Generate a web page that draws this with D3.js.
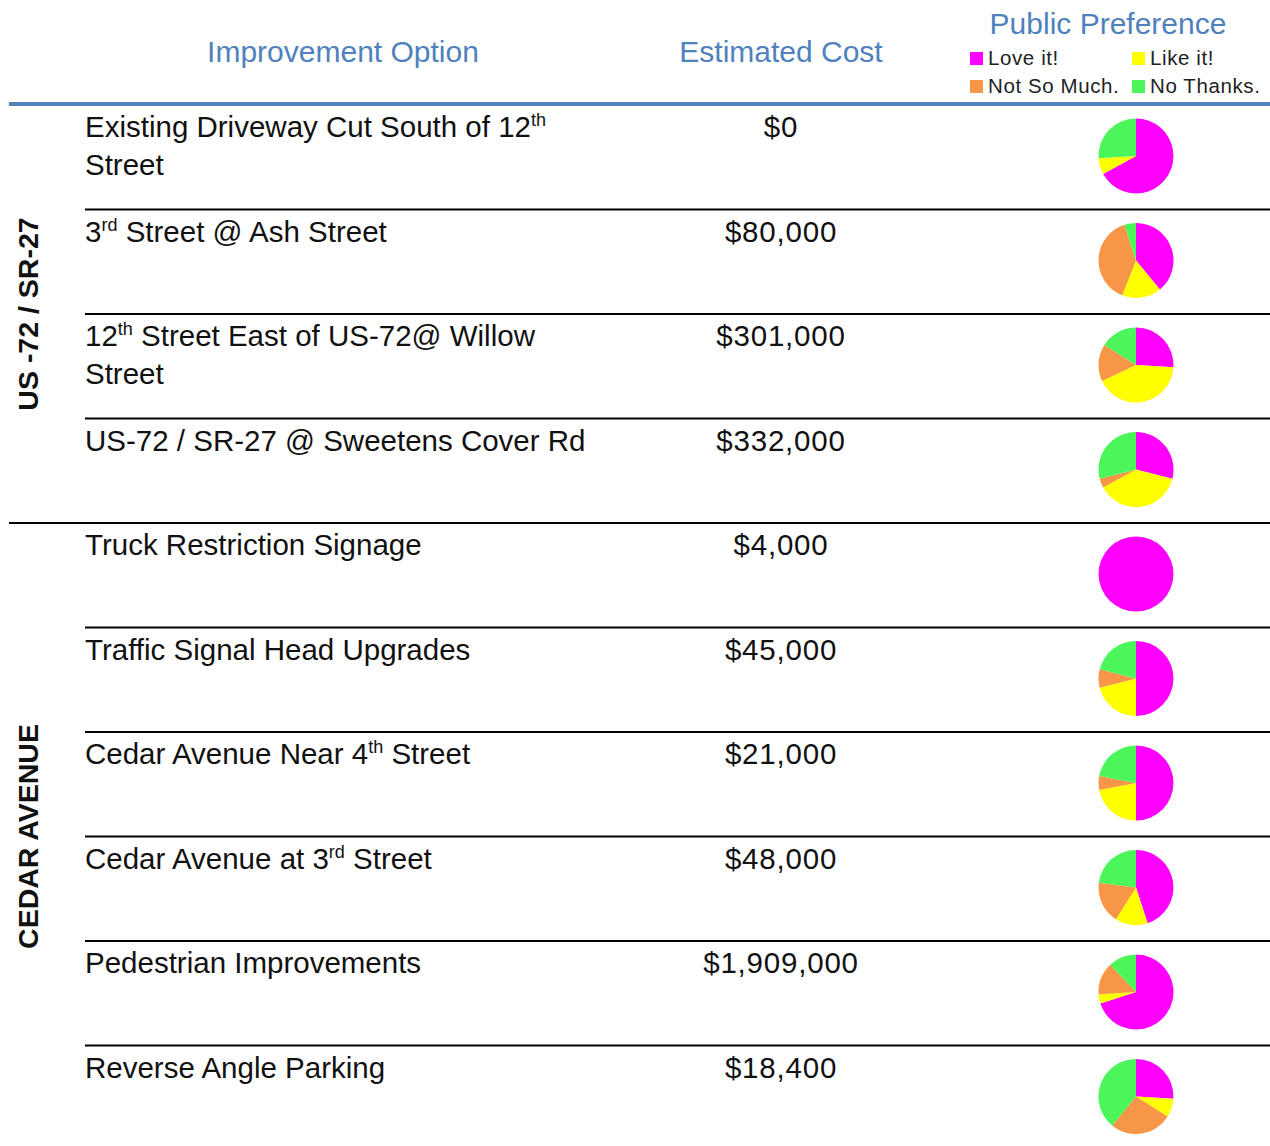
<!DOCTYPE html>
<html lang="en">
<head>
<meta charset="utf-8" />
<title>Improvement Options</title>
<script src="https://d3js.org/d3.v7.min.js"></script>
<style>
    body { margin: 0; background: #fff; font-family: "Liberation Sans", Arial, sans-serif; }
    .head { fill: #4f81bd; font-size: 30px; }
    .opt { fill: #111; font-size: 29.5px; }
    .cost { fill: #111; font-size: 29.5px; letter-spacing: 0.8px; }
    .grp { fill: #111; font-size: 28.5px; font-weight: bold; }
    .leg { fill: #222; font-size: 20.5px; letter-spacing: 0.6px; }
</style>
</head>
<body>
<script>
    // data
    var groups = ["US -72 / SR-27", "CEDAR AVENUE"]
    var groupRows = [4, 6]
    // "^xx" marks a superscript, "|" a line break
    var options = [
        "Existing Driveway Cut South of 12^th|Street",
        "3^rd Street @ Ash Street",
        "12^th Street East of US-72@ Willow|Street",
        "US-72 / SR-27 @ Sweetens Cover Rd",
        "Truck Restriction Signage",
        "Traffic Signal Head Upgrades",
        "Cedar Avenue Near 4^th Street",
        "Cedar Avenue at 3^rd Street",
        "Pedestrian Improvements",
        "Reverse Angle Parking"
    ]
    var costs = ["$0", "$80,000", "$301,000", "$332,000", "$4,000", "$45,000", "$21,000", "$48,000", "$1,909,000", "$18,400"]
    var prefs = ["Love it!", "Like it!", "Not So Much.", "No Thanks."]
    var love      = [67, 39, 26, 29, 100, 50, 50, 45, 70, 26]
    var like      = [7, 17, 42, 38, 0, 21, 22, 14, 4, 8]
    var notSoMuch = [0, 39, 16, 4, 0, 8, 6, 18, 14, 27]
    var noThanks  = [26, 5, 16, 29, 0, 21, 22, 23, 12, 39]
    var prefColors = ["#ff00ff", "#ffff00", "#f79646", "#4cf65a"]

    var W = 1270, H = 1146
    var top0 = 105, rowH = 104.5

    var svg = d3.select("body").append("svg")
        .attr("width", W).attr("height", H)

    var y = d3.scaleBand().domain(d3.range(options.length))
        .range([top0, top0 + rowH * options.length]).padding(0)
    var color = d3.scaleOrdinal().domain(prefs).range(prefColors)

    // header
    svg.append("text").attr("class", "head").attr("x", 343).attr("y", 62)
        .attr("text-anchor", "middle").text("Improvement Option")
    svg.append("text").attr("class", "head").attr("x", 781).attr("y", 62)
        .attr("text-anchor", "middle").text("Estimated Cost")
    svg.append("text").attr("class", "head").attr("x", 1108).attr("y", 34)
        .attr("text-anchor", "middle").text("Public Preference")

    var legX = [970, 1132], legY = [52, 80]
    var leg = svg.selectAll(".legitem").data(prefs).enter().append("g")
        .attr("transform", function (d, i) { return "translate(" + legX[i % 2] + "," + legY[Math.floor(i / 2)] + ")" })
    leg.append("rect").attr("width", 13).attr("height", 13).attr("fill", function (d) { return color(d) })
    leg.append("text").attr("class", "leg").attr("x", 18).attr("y", 13).text(function (d) { return d })

    svg.append("rect").attr("x", 9).attr("y", 102).attr("width", W - 9).attr("height", 4).attr("fill", "#4f81bd")

    // row separators
    var start = 0
    groupRows.forEach(function (n, gi) {
        for (var i = start; i < start + n; i++) {
            if (i == 0) continue
            var full = (i == start)
            svg.append("line")
                .attr("x1", full ? 9 : 85).attr("x2", W)
                .attr("y1", y(i)).attr("y2", y(i))
                .attr("stroke", "#000").attr("stroke-width", 2)
        }
        var mid = (y(start) + y(start + n - 1) + y.bandwidth()) / 2
        svg.append("text").attr("class", "grp")
            .attr("text-anchor", "middle")
            .attr("transform", "translate(38," + mid + ")rotate(-90)")
            .text(groups[gi])
        start += n
    })

    // option text with superscripts
    options.forEach(function (s, i) {
        var lines = s.split("|")
        lines.forEach(function (ln, li) {
            var t = svg.append("text").attr("class", "opt")
                .attr("x", 85).attr("y", y(i) + 32 + li * 38)
            var parts = ln.split(/(\^[a-z]+)/)
            var lift = 0
            parts.forEach(function (p) {
                if (!p) return
                if (p[0] == "^") {
                    t.append("tspan").attr("dy", -11).attr("font-size", 18).text(p.slice(1))
                    lift = 11
                } else {
                    t.append("tspan").attr("dy", lift).text(p)
                    lift = 0
                }
            })
        })
        svg.append("text").attr("class", "cost")
            .attr("x", 781).attr("y", y(i) + 32)
            .attr("text-anchor", "middle").text(costs[i])
    })

    // pies
    var pie = d3.pie().sort(null).value(function (d) { return d.v })
    var arc = d3.arc().innerRadius(0).outerRadius(37.5)
    options.forEach(function (s, i) {
        var vals = [love[i], like[i], notSoMuch[i], noThanks[i]].map(function (v, k) { return { k: prefs[k], v: v } })
        var g = svg.append("g").attr("transform", "translate(1136," + (y(i) + 51) + ")")
        g.selectAll("path").data(pie(vals)).enter().append("path")
            .attr("d", arc)
            .attr("fill", function (d) { return color(d.data.k) })
    })
</script>
</body>
</html>
